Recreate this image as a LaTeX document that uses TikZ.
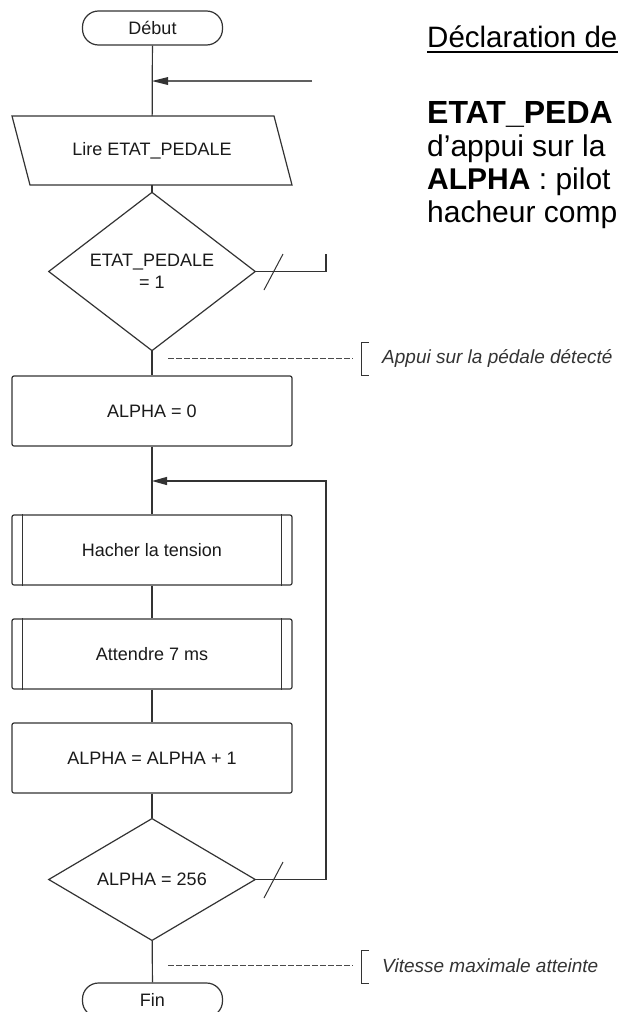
\documentclass[tikz,border=0pt]{standalone}
\usepackage{fontspec}
\setmainfont{Liberation Sans}
\usetikzlibrary{shapes.geometric,arrows.meta}
\definecolor{ln}{HTML}{333333}
\definecolor{tx}{HTML}{1A1A1A}
\definecolor{dsh}{HTML}{4A4A4A}
\begin{document}
\begin{tikzpicture}[x=1pt,y=-1pt,
  line/.style={draw=ln,line width=1.2pt},
  fc/.style={font=\fontsize{18}{22}\selectfont, text=tx},
  term/.style={line, fc, rectangle, rounded corners=16pt, minimum width=140pt, minimum height=34pt, inner sep=0pt},
  proc/.style={line, fc, rectangle, rounded corners=2pt, minimum width=280pt, minimum height=70pt, inner sep=0pt},
  iobox/.style={fc, rectangle, minimum width=280pt, minimum height=69pt, inner sep=0pt},
  dec/.style={line, fc, diamond, minimum width=207pt, minimum height=103pt, inner sep=0pt, align=center},
  arr/.style={-{Triangle[length=15pt,width=8pt]}},
  slash/.style={draw=ln, line width=1pt},
  annline/.style={draw=dsh, line width=0.8pt, dash pattern=on 5.5pt off 2.5pt},
  brack/.style={draw=ln, line width=1pt},
  anntext/.style={anchor=west, font=\fontsize{19}{22}\itshape, text=ln, inner sep=0pt},
  decl/.style={anchor=base west, inner sep=0pt, font=\fontsize{30}{34}\selectfont, text=black}
]
\useasboundingbox (0,0) rectangle (618,1012);
\fill[white] (0,0) rectangle (618,1012);

% main flow nodes
\node[term] (debut) at (152.5,28) {Début};
\node[iobox] (lire) at (152,150.5) {Lire ETAT\_PEDALE};
\draw[line] (12,116) -- (274,116) -- (292,185) -- (30,185) -- cycle;
\node[dec] (d1) at (152,271.5) {ETAT\_PEDALE\\= 1};
\node[proc] (a0) at (152,411) {ALPHA = 0};
\node[proc] (hach) at (152,550) {Hacher la tension};
\node[proc] (att) at (152,654) {Attendre 7 ms};
\node[proc] (inc) at (152,758) {ALPHA = ALPHA + 1};
\node[dec] (d2) at (152,879.5) {ALPHA = 256};
\node[term] (fin) at (152.5,1000) {Fin};

% subroutine side bars
\foreach \n in {hach,att}{
  \draw[line] ([xshift=11pt]\n.north west) -- ([xshift=11pt]\n.south west);
  \draw[line] ([xshift=-11pt]\n.north east) -- ([xshift=-11pt]\n.south east);
}

% junction coordinates
\coordinate (j1) at (152,81);
\coordinate (j2) at (152,481);
\coordinate (c0) at (312,81);
\coordinate (c1) at (326,254);
\coordinate (c2) at (326,481);

% vertical connectors
\draw[line] (debut) -- (lire);
\draw[line] (lire) -- (d1);
\draw[line] (d1) -- (a0);
\draw[line] (a0) -- (hach);
\draw[line] (hach) -- (att);
\draw[line] (att) -- (inc);
\draw[line] (inc) -- (d2);
\draw[line] (d2) -- (fin);

% loop arrows
\draw[draw=gray!75!black, line width=1.8pt] (c0) -- ([xshift=14pt]j1);
\fill[ln] (j1) -- ([xshift=16pt,yshift=4pt]j1) -- ([xshift=16pt,yshift=-4pt]j1) -- cycle;
\draw[line] (d1.east) -| (c1);
\draw[line, arr] (d2.east) -| (c2) -- (j2);

% "no" slashes
\draw[slash] (264,290) -- (283,254);
\draw[slash] (264,898) -- (283,862);

% annotations
\coordinate (an1) at (168,358);
\coordinate (bk1) at (353,358);
\draw[annline] (an1) -- (bk1);
\draw[brack] (369,342) -- (361,342) -- (361,375) -- (369,375);
\node[anntext] (t1) at (382,358) {Appui sur la pédale détecté};

\coordinate (an2) at (168,965);
\coordinate (bk2) at (353,965);
\draw[annline] (an2) -- (bk2);
\draw[brack] (369,950) -- (361,950) -- (361,983) -- (369,983);
\node[anntext] (t2) at (382,966) {Vitesse maximale atteinte};

% declarations text (reaching the right edge)
\node[decl, font=\fontsize{29.5}{34}\selectfont] (h0) at (427,47) {Déclaration de};
\draw[black, line width=2pt] (427,51.5) -- (618,51.5);
\node[decl, font=\fontsize{32}{34}\selectfont] (h1) at (427,123) {\bfseries ETAT\_PEDA};
\node[decl] (h2) at (427,156.5) {d’appui sur la};
\node[decl] (h3) at (427,189.5) {\textbf{ALPHA} : pilot};
\node[decl] (h4) at (427,222.5) {hacheur comp};
\end{tikzpicture}
\end{document}
